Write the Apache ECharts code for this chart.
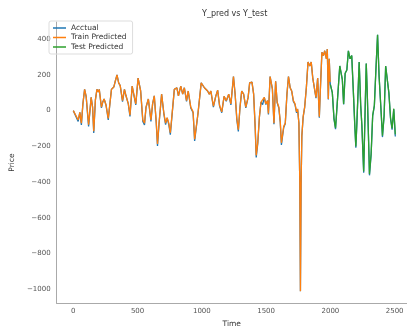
<!DOCTYPE html>
<html>
<head>
<meta charset="utf-8">
<script src="https://cdn.jsdelivr.net/npm/echarts@6/dist/echarts.min.js"></script>
<style>
  html, body { margin: 0; padding: 0; background: #fff; }
  #chart { width: 407px; height: 333px; }
</style>
</head>
<body>
<div id="chart"></div>
<script>
// time index of the training part and its values
const trainT = [0, 15, 38, 51, 63, 75, 88, 100, 119, 139, 150, 159, 172, 184, 195, 202, 219, 230, 240, 255,
  272, 285, 297, 315, 325, 340, 353, 365, 383, 398, 410, 428, 441, 458, 468, 486, 504, 524, 541, 554,
  566, 584, 604, 617, 630, 645, 655, 667, 687, 705, 718, 730, 743, 755, 768, 786, 806, 818, 836, 851,
  864, 881, 894, 914, 932, 944, 957, 970, 995, 1020, 1033, 1045, 1058, 1070, 1090, 1108, 1123, 1138, 1155, 1173,
  1190, 1209, 1226, 1246, 1259, 1272, 1284, 1297, 1310, 1325, 1342, 1360, 1372, 1390, 1403, 1415, 1423, 1435, 1448, 1460,
  1473, 1486, 1498, 1511, 1518, 1531, 1549, 1561, 1574, 1586, 1599, 1610, 1619, 1637, 1649, 1662, 1674, 1687, 1699, 1712,
  1725, 1737, 1745, 1755, 1762, 1767, 1772, 1778, 1788, 1800, 1813, 1826, 1840, 1851, 1863, 1876, 1888, 1901, 1914, 1921,
  1934, 1946, 1956, 1969, 1976, 1984, 1991, 1998];
const trainPred = [0, 5, -52, -10, -70, 40, 119, 80, -79, 74, 20, -115, 60, 119, 105, 119, 20, 50, 65, 30,
  -43, 40, 119, 132, 160, 200, 155, 140, 56, 119, 83, 38, -25, 137, 130, 38, 182, 110, -52, -70,
  20, 65, -52, 38, 83, -60, -187, -70, 92, -16, -70, -40, -70, -124, -124, 119, 128, 83, 137, 92,
  128, 56, 110, 20, -7, -160, -88, -16, 155, 128, 119, 110, 92, 110, 25, 80, 115, 30, -7, 80,
  56, 92, 38, 191, 92, -43, -106, 20, 110, 92, 20, 74, 155, 160, 92, -88, -250, -178, -34, 47,
  38, 74, 38, 56, -16, 191, 120, -70, 164, 47, 20, -60, -180, -88, -70, 92, 191, 128, 110, 56,
  38, -7, 10, -70, -400, -1010, -420, -142, -34, 20, 128, 272, 250, 272, 182, 173, 74, 182, -34, 100,
  326, 308, 335, 290, 344, 65, 290, 160];
const actualTrain = [0, 5, -60, -10, -80, 40, 119, 80, -88, 74, 20, -125, 60, 119, 105, 119, 15, 50, 65, 30,
  -52, 40, 119, 132, 160, 200, 155, 140, 50, 119, 83, 38, -33, 137, 130, 32, 182, 110, -60, -80,
  20, 65, -60, 38, 83, -65, -197, -75, 92, -20, -78, -40, -78, -134, -132, 119, 128, 83, 137, 92,
  128, 52, 110, 15, -12, -170, -92, -16, 155, 128, 119, 110, 92, 110, 20, 80, 115, 25, -12, 80,
  52, 92, 32, 191, 92, -50, -116, 20, 110, 92, 15, 74, 155, 160, 92, -95, -262, -185, -34, 47,
  34, 74, 34, 56, -22, 191, 120, -76, 164, 44, 15, -65, -192, -94, -74, 92, 191, 128, 110, 52,
  34, -12, 8, -70, -400, -1010, -420, -142, -38, 20, 128, 272, 250, 272, 182, 173, 70, 182, -40, 100,
  326, 308, 335, 290, 344, 62, 290, 160];
// time index of the test part and its values
const testT = [2000, 2015, 2028, 2040, 2053, 2073, 2093, 2103, 2115, 2128, 2140, 2153, 2166, 2178, 2191, 2198, 2206, 2224, 2236, 2245,
  2259, 2271, 2279, 2286, 2296, 2304, 2317, 2329, 2342, 2354, 2367, 2379, 2392, 2405, 2418, 2430, 2443, 2455, 2468, 2480,
  2493, 2505];
const testPred = [146, 101, -43, -97, 38, 250, 173, 38, 209, 227, 335, 290, 308, 119, -97, -200, -70, 272, 29, -80,
  -340, 29, 263, 119, -133, -355, -240, -25, 29, 227, 425, 191, 29, -140, -25, 250, 255, 101, -40, -100,
  11, -133];
const actualTest = [146, 101, -48, -104, 38, 250, 173, 34, 209, 227, 335, 290, 308, 115, -104, -208, -74, 272, 25, -86,
  -348, 25, 263, 115, -140, -362, -246, -30, 25, 227, 425, 191, 25, -148, -30, 250, 255, 98, -46, -106,
  8, -145];
const xTicks = [0, 500, 1000, 1500, 2000, 2500];
const yTicks = [-1000, -800, -600, -400, -200, 0, 200, 400];

const pairs = (ts, vs) => ts.map((t, i) => [t, vs[i]]);
const plain = (v) => String(Math.round(v)).replace('-', '\u2212');

const chart = echarts.init(document.getElementById('chart'), null, { renderer: 'canvas' });
const font = 'DejaVu Sans';

chart.setOption({
    animation: false,
    backgroundColor: '#fff',
    textStyle: { fontFamily: font },
    title: {
        text: 'Y_pred vs Y_test',
        left: 197,
        top: 5,
        textStyle: { fontSize: 8, fontWeight: 'normal', color: '#333', fontFamily: font },
    },
    legend: {
        orient: 'vertical',
        left: 49,
        top: 21,
        padding: [3, 6, 3, 4],
        itemGap: 1.5,
        itemWidth: 13,
        itemHeight: 1.5,
        icon: 'rect',
        borderColor: '#ddd',
        borderWidth: 1,
        borderRadius: 2,
        textStyle: { fontSize: 7.5, color: '#333', fontFamily: font },
        data: ['Acctual', 'Train Predicted', 'Test Predicted'],
    },
    grid: { left: 46, top: 22, right: 0, bottom: 20 },
    xAxis: {
        type: 'value',
        min: -130,
        max: 2596,
        name: 'Time',
        nameLocation: 'middle',
        nameGap: 14,
        nameTextStyle: { fontSize: 7.5, color: '#333' },
        axisLine: { show: true, onZero: false, lineStyle: { color: '#aaa', width: 1 } },
        axisTick: { show: false },
        splitLine: { show: false },
        axisLabel: { customValues: xTicks, fontSize: 7, color: '#555', margin: 5, formatter: plain },
    },
    yAxis: {
        type: 'value',
        min: -1077,
        max: 496,
        name: 'Price',
        nameLocation: 'middle',
        nameGap: 31,
        nameTextStyle: { fontSize: 7.5, color: '#333' },
        axisLine: { show: true, onZero: false, lineStyle: { color: '#aaa', width: 1 } },
        axisTick: { show: false },
        splitLine: { show: false },
        axisLabel: { customValues: yTicks, fontSize: 7, color: '#555', margin: 6, formatter: plain },
    },
    series: [
        {
            name: 'Acctual',
            type: 'line',
            showSymbol: false,
            color: '#1f77b4',
            lineStyle: { width: 1.3 },
            data: pairs(trainT.concat(testT), actualTrain.concat(actualTest)),
        },
        {
            name: 'Train Predicted',
            type: 'line',
            showSymbol: false,
            color: '#ff7f0e',
            lineStyle: { width: 1.3 },
            data: pairs(trainT, trainPred),
        },
        {
            name: 'Test Predicted',
            type: 'line',
            showSymbol: false,
            color: '#2ca02c',
            lineStyle: { width: 1.3 },
            data: pairs(testT, testPred),
        },
    ],
});

window.addEventListener('resize', () => chart.resize());
</script>
</body>
</html>
